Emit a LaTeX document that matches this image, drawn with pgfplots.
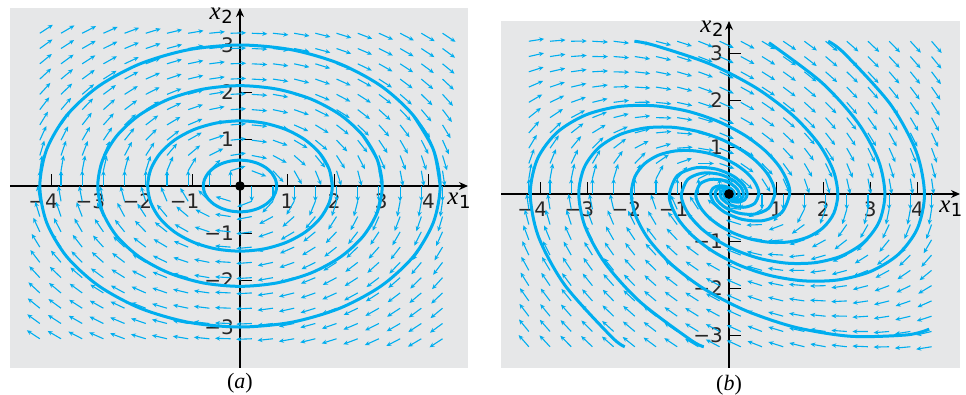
\documentclass[border=0pt]{standalone}
\usepackage{pgfplots}
\pgfplotsset{compat=1.18}
\usepackage{pgfplotstable}
\usetikzlibrary{arrows.meta}
\usepackage{fontspec}
\setmainfont{DejaVu Sans}
\newfontfamily\lserif{Liberation Serif}
\definecolor{traj}{RGB}{0,174,239}
\definecolor{bg}{RGB}{230,231,232}
\newcommand{\xlab}[1]{{\lserif\itshape\fontsize{12.5}{13}\selectfont x}\kern0.3pt\raisebox{-0.35ex}{\fontsize{9}{9}\selectfont #1}}
\newcommand{\sublab}[1]{{\lserif\fontsize{11}{12}\selectfont(\textit{#1})}}

\pgfplotstableread{
x y u v
-4.25 3.25 3.25 2.125
-3.8 3.25 3.25 1.9
-3.35 3.25 3.25 1.675
-2.9 3.25 3.25 1.45
-2.45 3.25 3.25 1.225
-2.0 3.25 3.25 1.0
-1.55 3.25 3.25 0.775
-1.1 3.25 3.25 0.55
-0.65 3.25 3.25 0.325
-0.2 3.25 3.25 0.1
0.25 3.25 3.25 -0.125
0.7 3.25 3.25 -0.35
1.15 3.25 3.25 -0.575
1.6 3.25 3.25 -0.8
2.05 3.25 3.25 -1.025
2.5 3.25 3.25 -1.25
2.95 3.25 3.25 -1.475
3.4 3.25 3.25 -1.7
3.85 3.25 3.25 -1.925
4.3 3.25 3.25 -2.15
-4.25 2.925 2.925 2.125
-3.8 2.925 2.925 1.9
-3.35 2.925 2.925 1.675
-2.9 2.925 2.925 1.45
-2.45 2.925 2.925 1.225
-2.0 2.925 2.925 1.0
-1.55 2.925 2.925 0.775
-1.1 2.925 2.925 0.55
-0.65 2.925 2.925 0.325
-0.2 2.925 2.925 0.1
0.25 2.925 2.925 -0.125
0.7 2.925 2.925 -0.35
1.15 2.925 2.925 -0.575
1.6 2.925 2.925 -0.8
2.05 2.925 2.925 -1.025
2.5 2.925 2.925 -1.25
2.95 2.925 2.925 -1.475
3.4 2.925 2.925 -1.7
3.85 2.925 2.925 -1.925
4.3 2.925 2.925 -2.15
-4.25 2.6 2.6 2.125
-3.8 2.6 2.6 1.9
-3.35 2.6 2.6 1.675
-2.9 2.6 2.6 1.45
-2.45 2.6 2.6 1.225
-2.0 2.6 2.6 1.0
-1.55 2.6 2.6 0.775
-1.1 2.6 2.6 0.55
-0.65 2.6 2.6 0.325
-0.2 2.6 2.6 0.1
0.25 2.6 2.6 -0.125
0.7 2.6 2.6 -0.35
1.15 2.6 2.6 -0.575
1.6 2.6 2.6 -0.8
2.05 2.6 2.6 -1.025
2.5 2.6 2.6 -1.25
2.95 2.6 2.6 -1.475
3.4 2.6 2.6 -1.7
3.85 2.6 2.6 -1.925
4.3 2.6 2.6 -2.15
-4.25 2.275 2.275 2.125
-3.8 2.275 2.275 1.9
-3.35 2.275 2.275 1.675
-2.9 2.275 2.275 1.45
-2.45 2.275 2.275 1.225
-2.0 2.275 2.275 1.0
-1.55 2.275 2.275 0.775
-1.1 2.275 2.275 0.55
-0.65 2.275 2.275 0.325
-0.2 2.275 2.275 0.1
0.25 2.275 2.275 -0.125
0.7 2.275 2.275 -0.35
1.15 2.275 2.275 -0.575
1.6 2.275 2.275 -0.8
2.05 2.275 2.275 -1.025
2.5 2.275 2.275 -1.25
2.95 2.275 2.275 -1.475
3.4 2.275 2.275 -1.7
3.85 2.275 2.275 -1.925
4.3 2.275 2.275 -2.15
-4.25 1.95 1.95 2.125
-3.8 1.95 1.95 1.9
-3.35 1.95 1.95 1.675
-2.9 1.95 1.95 1.45
-2.45 1.95 1.95 1.225
-2.0 1.95 1.95 1.0
-1.55 1.95 1.95 0.775
-1.1 1.95 1.95 0.55
-0.65 1.95 1.95 0.325
-0.2 1.95 1.95 0.1
0.25 1.95 1.95 -0.125
0.7 1.95 1.95 -0.35
1.15 1.95 1.95 -0.575
1.6 1.95 1.95 -0.8
2.05 1.95 1.95 -1.025
2.5 1.95 1.95 -1.25
2.95 1.95 1.95 -1.475
3.4 1.95 1.95 -1.7
3.85 1.95 1.95 -1.925
4.3 1.95 1.95 -2.15
-4.25 1.625 1.625 2.125
-3.8 1.625 1.625 1.9
-3.35 1.625 1.625 1.675
-2.9 1.625 1.625 1.45
-2.45 1.625 1.625 1.225
-2.0 1.625 1.625 1.0
-1.55 1.625 1.625 0.775
-1.1 1.625 1.625 0.55
-0.65 1.625 1.625 0.325
-0.2 1.625 1.625 0.1
0.25 1.625 1.625 -0.125
0.7 1.625 1.625 -0.35
1.15 1.625 1.625 -0.575
1.6 1.625 1.625 -0.8
2.05 1.625 1.625 -1.025
2.5 1.625 1.625 -1.25
2.95 1.625 1.625 -1.475
3.4 1.625 1.625 -1.7
3.85 1.625 1.625 -1.925
4.3 1.625 1.625 -2.15
-4.25 1.3 1.3 2.125
-3.8 1.3 1.3 1.9
-3.35 1.3 1.3 1.675
-2.9 1.3 1.3 1.45
-2.45 1.3 1.3 1.225
-2.0 1.3 1.3 1.0
-1.55 1.3 1.3 0.775
-1.1 1.3 1.3 0.55
-0.65 1.3 1.3 0.325
-0.2 1.3 1.3 0.1
0.25 1.3 1.3 -0.125
0.7 1.3 1.3 -0.35
1.15 1.3 1.3 -0.575
1.6 1.3 1.3 -0.8
2.05 1.3 1.3 -1.025
2.5 1.3 1.3 -1.25
2.95 1.3 1.3 -1.475
3.4 1.3 1.3 -1.7
3.85 1.3 1.3 -1.925
4.3 1.3 1.3 -2.15
-4.25 0.975 0.975 2.125
-3.8 0.975 0.975 1.9
-3.35 0.975 0.975 1.675
-2.9 0.975 0.975 1.45
-2.45 0.975 0.975 1.225
-2.0 0.975 0.975 1.0
-1.55 0.975 0.975 0.775
-1.1 0.975 0.975 0.55
-0.65 0.975 0.975 0.325
-0.2 0.975 0.975 0.1
0.25 0.975 0.975 -0.125
0.7 0.975 0.975 -0.35
1.15 0.975 0.975 -0.575
1.6 0.975 0.975 -0.8
2.05 0.975 0.975 -1.025
2.5 0.975 0.975 -1.25
2.95 0.975 0.975 -1.475
3.4 0.975 0.975 -1.7
3.85 0.975 0.975 -1.925
4.3 0.975 0.975 -2.15
-4.25 0.65 0.65 2.125
-3.8 0.65 0.65 1.9
-3.35 0.65 0.65 1.675
-2.9 0.65 0.65 1.45
-2.45 0.65 0.65 1.225
-2.0 0.65 0.65 1.0
-1.55 0.65 0.65 0.775
-1.1 0.65 0.65 0.55
-0.65 0.65 0.65 0.325
-0.2 0.65 0.65 0.1
0.25 0.65 0.65 -0.125
0.7 0.65 0.65 -0.35
1.15 0.65 0.65 -0.575
1.6 0.65 0.65 -0.8
2.05 0.65 0.65 -1.025
2.5 0.65 0.65 -1.25
2.95 0.65 0.65 -1.475
3.4 0.65 0.65 -1.7
3.85 0.65 0.65 -1.925
4.3 0.65 0.65 -2.15
-4.25 0.325 0.325 2.125
-3.8 0.325 0.325 1.9
-3.35 0.325 0.325 1.675
-2.9 0.325 0.325 1.45
-2.45 0.325 0.325 1.225
-2.0 0.325 0.325 1.0
-1.55 0.325 0.325 0.775
-1.1 0.325 0.325 0.55
-0.65 0.325 0.325 0.325
-0.2 0.325 0.325 0.1
0.25 0.325 0.325 -0.125
0.7 0.325 0.325 -0.35
1.15 0.325 0.325 -0.575
1.6 0.325 0.325 -0.8
2.05 0.325 0.325 -1.025
2.5 0.325 0.325 -1.25
2.95 0.325 0.325 -1.475
3.4 0.325 0.325 -1.7
3.85 0.325 0.325 -1.925
4.3 0.325 0.325 -2.15
-4.25 0 0 2.125
-3.8 0 0 1.9
-3.35 0 0 1.675
-2.9 0 0 1.45
-2.45 0 0 1.225
-2.0 0 0 1.0
-1.55 0 0 0.775
-1.1 0 0 0.55
-0.65 0 0 0.325
-0.2 0 0 0.1
0.25 0 0 -0.125
0.7 0 0 -0.35
1.15 0 0 -0.575
1.6 0 0 -0.8
2.05 0 0 -1.025
2.5 0 0 -1.25
2.95 0 0 -1.475
3.4 0 0 -1.7
3.85 0 0 -1.925
4.3 0 0 -2.15
-4.25 -0.325 -0.325 2.125
-3.8 -0.325 -0.325 1.9
-3.35 -0.325 -0.325 1.675
-2.9 -0.325 -0.325 1.45
-2.45 -0.325 -0.325 1.225
-2.0 -0.325 -0.325 1.0
-1.55 -0.325 -0.325 0.775
-1.1 -0.325 -0.325 0.55
-0.65 -0.325 -0.325 0.325
-0.2 -0.325 -0.325 0.1
0.25 -0.325 -0.325 -0.125
0.7 -0.325 -0.325 -0.35
1.15 -0.325 -0.325 -0.575
1.6 -0.325 -0.325 -0.8
2.05 -0.325 -0.325 -1.025
2.5 -0.325 -0.325 -1.25
2.95 -0.325 -0.325 -1.475
3.4 -0.325 -0.325 -1.7
3.85 -0.325 -0.325 -1.925
4.3 -0.325 -0.325 -2.15
-4.25 -0.65 -0.65 2.125
-3.8 -0.65 -0.65 1.9
-3.35 -0.65 -0.65 1.675
-2.9 -0.65 -0.65 1.45
-2.45 -0.65 -0.65 1.225
-2.0 -0.65 -0.65 1.0
-1.55 -0.65 -0.65 0.775
-1.1 -0.65 -0.65 0.55
-0.65 -0.65 -0.65 0.325
-0.2 -0.65 -0.65 0.1
0.25 -0.65 -0.65 -0.125
0.7 -0.65 -0.65 -0.35
1.15 -0.65 -0.65 -0.575
1.6 -0.65 -0.65 -0.8
2.05 -0.65 -0.65 -1.025
2.5 -0.65 -0.65 -1.25
2.95 -0.65 -0.65 -1.475
3.4 -0.65 -0.65 -1.7
3.85 -0.65 -0.65 -1.925
4.3 -0.65 -0.65 -2.15
-4.25 -0.975 -0.975 2.125
-3.8 -0.975 -0.975 1.9
-3.35 -0.975 -0.975 1.675
-2.9 -0.975 -0.975 1.45
-2.45 -0.975 -0.975 1.225
-2.0 -0.975 -0.975 1.0
-1.55 -0.975 -0.975 0.775
-1.1 -0.975 -0.975 0.55
-0.65 -0.975 -0.975 0.325
-0.2 -0.975 -0.975 0.1
0.25 -0.975 -0.975 -0.125
0.7 -0.975 -0.975 -0.35
1.15 -0.975 -0.975 -0.575
1.6 -0.975 -0.975 -0.8
2.05 -0.975 -0.975 -1.025
2.5 -0.975 -0.975 -1.25
2.95 -0.975 -0.975 -1.475
3.4 -0.975 -0.975 -1.7
3.85 -0.975 -0.975 -1.925
4.3 -0.975 -0.975 -2.15
-4.25 -1.3 -1.3 2.125
-3.8 -1.3 -1.3 1.9
-3.35 -1.3 -1.3 1.675
-2.9 -1.3 -1.3 1.45
-2.45 -1.3 -1.3 1.225
-2.0 -1.3 -1.3 1.0
-1.55 -1.3 -1.3 0.775
-1.1 -1.3 -1.3 0.55
-0.65 -1.3 -1.3 0.325
-0.2 -1.3 -1.3 0.1
0.25 -1.3 -1.3 -0.125
0.7 -1.3 -1.3 -0.35
1.15 -1.3 -1.3 -0.575
1.6 -1.3 -1.3 -0.8
2.05 -1.3 -1.3 -1.025
2.5 -1.3 -1.3 -1.25
2.95 -1.3 -1.3 -1.475
3.4 -1.3 -1.3 -1.7
3.85 -1.3 -1.3 -1.925
4.3 -1.3 -1.3 -2.15
-4.25 -1.625 -1.625 2.125
-3.8 -1.625 -1.625 1.9
-3.35 -1.625 -1.625 1.675
-2.9 -1.625 -1.625 1.45
-2.45 -1.625 -1.625 1.225
-2.0 -1.625 -1.625 1.0
-1.55 -1.625 -1.625 0.775
-1.1 -1.625 -1.625 0.55
-0.65 -1.625 -1.625 0.325
-0.2 -1.625 -1.625 0.1
0.25 -1.625 -1.625 -0.125
0.7 -1.625 -1.625 -0.35
1.15 -1.625 -1.625 -0.575
1.6 -1.625 -1.625 -0.8
2.05 -1.625 -1.625 -1.025
2.5 -1.625 -1.625 -1.25
2.95 -1.625 -1.625 -1.475
3.4 -1.625 -1.625 -1.7
3.85 -1.625 -1.625 -1.925
4.3 -1.625 -1.625 -2.15
-4.25 -1.95 -1.95 2.125
-3.8 -1.95 -1.95 1.9
-3.35 -1.95 -1.95 1.675
-2.9 -1.95 -1.95 1.45
-2.45 -1.95 -1.95 1.225
-2.0 -1.95 -1.95 1.0
-1.55 -1.95 -1.95 0.775
-1.1 -1.95 -1.95 0.55
-0.65 -1.95 -1.95 0.325
-0.2 -1.95 -1.95 0.1
0.25 -1.95 -1.95 -0.125
0.7 -1.95 -1.95 -0.35
1.15 -1.95 -1.95 -0.575
1.6 -1.95 -1.95 -0.8
2.05 -1.95 -1.95 -1.025
2.5 -1.95 -1.95 -1.25
2.95 -1.95 -1.95 -1.475
3.4 -1.95 -1.95 -1.7
3.85 -1.95 -1.95 -1.925
4.3 -1.95 -1.95 -2.15
-4.25 -2.275 -2.275 2.125
-3.8 -2.275 -2.275 1.9
-3.35 -2.275 -2.275 1.675
-2.9 -2.275 -2.275 1.45
-2.45 -2.275 -2.275 1.225
-2.0 -2.275 -2.275 1.0
-1.55 -2.275 -2.275 0.775
-1.1 -2.275 -2.275 0.55
-0.65 -2.275 -2.275 0.325
-0.2 -2.275 -2.275 0.1
0.25 -2.275 -2.275 -0.125
0.7 -2.275 -2.275 -0.35
1.15 -2.275 -2.275 -0.575
1.6 -2.275 -2.275 -0.8
2.05 -2.275 -2.275 -1.025
2.5 -2.275 -2.275 -1.25
2.95 -2.275 -2.275 -1.475
3.4 -2.275 -2.275 -1.7
3.85 -2.275 -2.275 -1.925
4.3 -2.275 -2.275 -2.15
-4.25 -2.6 -2.6 2.125
-3.8 -2.6 -2.6 1.9
-3.35 -2.6 -2.6 1.675
-2.9 -2.6 -2.6 1.45
-2.45 -2.6 -2.6 1.225
-2.0 -2.6 -2.6 1.0
-1.55 -2.6 -2.6 0.775
-1.1 -2.6 -2.6 0.55
-0.65 -2.6 -2.6 0.325
-0.2 -2.6 -2.6 0.1
0.25 -2.6 -2.6 -0.125
0.7 -2.6 -2.6 -0.35
1.15 -2.6 -2.6 -0.575
1.6 -2.6 -2.6 -0.8
2.05 -2.6 -2.6 -1.025
2.5 -2.6 -2.6 -1.25
2.95 -2.6 -2.6 -1.475
3.4 -2.6 -2.6 -1.7
3.85 -2.6 -2.6 -1.925
4.3 -2.6 -2.6 -2.15
-4.25 -2.925 -2.925 2.125
-3.8 -2.925 -2.925 1.9
-3.35 -2.925 -2.925 1.675
-2.9 -2.925 -2.925 1.45
-2.45 -2.925 -2.925 1.225
-2.0 -2.925 -2.925 1.0
-1.55 -2.925 -2.925 0.775
-1.1 -2.925 -2.925 0.55
-0.65 -2.925 -2.925 0.325
-0.2 -2.925 -2.925 0.1
0.25 -2.925 -2.925 -0.125
0.7 -2.925 -2.925 -0.35
1.15 -2.925 -2.925 -0.575
1.6 -2.925 -2.925 -0.8
2.05 -2.925 -2.925 -1.025
2.5 -2.925 -2.925 -1.25
2.95 -2.925 -2.925 -1.475
3.4 -2.925 -2.925 -1.7
3.85 -2.925 -2.925 -1.925
4.3 -2.925 -2.925 -2.15
-4.25 -3.25 -3.25 2.125
-3.8 -3.25 -3.25 1.9
-3.35 -3.25 -3.25 1.675
-2.9 -3.25 -3.25 1.45
-2.45 -3.25 -3.25 1.225
-2.0 -3.25 -3.25 1.0
-1.55 -3.25 -3.25 0.775
-1.1 -3.25 -3.25 0.55
-0.65 -3.25 -3.25 0.325
-0.2 -3.25 -3.25 0.1
0.25 -3.25 -3.25 -0.125
0.7 -3.25 -3.25 -0.35
1.15 -3.25 -3.25 -0.575
1.6 -3.25 -3.25 -0.8
2.05 -3.25 -3.25 -1.025
2.5 -3.25 -3.25 -1.25
2.95 -3.25 -3.25 -1.475
3.4 -3.25 -3.25 -1.7
3.85 -3.25 -3.25 -1.925
4.3 -3.25 -3.25 -2.15
}\fieldA

\pgfplotstableread{
x y u v
-4.25 3.25 3.25 0.5
-3.8 3.25 3.25 0.275
-3.35 3.25 3.25 0.05
-2.9 3.25 3.25 -0.175
-2.45 3.25 3.25 -0.4
-2.0 3.25 3.25 -0.625
-1.55 3.25 3.25 -0.85
-1.1 3.25 3.25 -1.075
-0.65 3.25 3.25 -1.3
-0.2 3.25 3.25 -1.525
0.25 3.25 3.25 -1.75
0.7 3.25 3.25 -1.975
1.15 3.25 3.25 -2.2
1.6 3.25 3.25 -2.425
2.05 3.25 3.25 -2.65
2.5 3.25 3.25 -2.875
2.95 3.25 3.25 -3.1
3.4 3.25 3.25 -3.325
3.85 3.25 3.25 -3.55
4.3 3.25 3.25 -3.775
-4.25 2.925 2.925 0.6625
-3.8 2.925 2.925 0.4375
-3.35 2.925 2.925 0.2125
-2.9 2.925 2.925 -0.0125
-2.45 2.925 2.925 -0.2375
-2.0 2.925 2.925 -0.4625
-1.55 2.925 2.925 -0.6875
-1.1 2.925 2.925 -0.9125
-0.65 2.925 2.925 -1.1375
-0.2 2.925 2.925 -1.3625
0.25 2.925 2.925 -1.5875
0.7 2.925 2.925 -1.8125
1.15 2.925 2.925 -2.0375
1.6 2.925 2.925 -2.2625
2.05 2.925 2.925 -2.4875
2.5 2.925 2.925 -2.7125
2.95 2.925 2.925 -2.9375
3.4 2.925 2.925 -3.1625
3.85 2.925 2.925 -3.3875
4.3 2.925 2.925 -3.6125
-4.25 2.6 2.6 0.825
-3.8 2.6 2.6 0.6
-3.35 2.6 2.6 0.375
-2.9 2.6 2.6 0.15
-2.45 2.6 2.6 -0.075
-2.0 2.6 2.6 -0.3
-1.55 2.6 2.6 -0.525
-1.1 2.6 2.6 -0.75
-0.65 2.6 2.6 -0.975
-0.2 2.6 2.6 -1.2
0.25 2.6 2.6 -1.425
0.7 2.6 2.6 -1.65
1.15 2.6 2.6 -1.875
1.6 2.6 2.6 -2.1
2.05 2.6 2.6 -2.325
2.5 2.6 2.6 -2.55
2.95 2.6 2.6 -2.775
3.4 2.6 2.6 -3.0
3.85 2.6 2.6 -3.225
4.3 2.6 2.6 -3.45
-4.25 2.275 2.275 0.9875
-3.8 2.275 2.275 0.7625
-3.35 2.275 2.275 0.5375
-2.9 2.275 2.275 0.3125
-2.45 2.275 2.275 0.0875
-2.0 2.275 2.275 -0.1375
-1.55 2.275 2.275 -0.3625
-1.1 2.275 2.275 -0.5875
-0.65 2.275 2.275 -0.8125
-0.2 2.275 2.275 -1.0375
0.25 2.275 2.275 -1.2625
0.7 2.275 2.275 -1.4875
1.15 2.275 2.275 -1.7125
1.6 2.275 2.275 -1.9375
2.05 2.275 2.275 -2.1625
2.5 2.275 2.275 -2.3875
2.95 2.275 2.275 -2.6125
3.4 2.275 2.275 -2.8375
3.85 2.275 2.275 -3.0625
4.3 2.275 2.275 -3.2875
-4.25 1.95 1.95 1.15
-3.8 1.95 1.95 0.925
-3.35 1.95 1.95 0.7
-2.9 1.95 1.95 0.475
-2.45 1.95 1.95 0.25
-2.0 1.95 1.95 0.025
-1.55 1.95 1.95 -0.2
-1.1 1.95 1.95 -0.425
-0.65 1.95 1.95 -0.65
-0.2 1.95 1.95 -0.875
0.25 1.95 1.95 -1.1
0.7 1.95 1.95 -1.325
1.15 1.95 1.95 -1.55
1.6 1.95 1.95 -1.775
2.05 1.95 1.95 -2.0
2.5 1.95 1.95 -2.225
2.95 1.95 1.95 -2.45
3.4 1.95 1.95 -2.675
3.85 1.95 1.95 -2.9
4.3 1.95 1.95 -3.125
-4.25 1.625 1.625 1.3125
-3.8 1.625 1.625 1.0875
-3.35 1.625 1.625 0.8625
-2.9 1.625 1.625 0.6375
-2.45 1.625 1.625 0.4125
-2.0 1.625 1.625 0.1875
-1.55 1.625 1.625 -0.0375
-1.1 1.625 1.625 -0.2625
-0.65 1.625 1.625 -0.4875
-0.2 1.625 1.625 -0.7125
0.25 1.625 1.625 -0.9375
0.7 1.625 1.625 -1.1625
1.15 1.625 1.625 -1.3875
1.6 1.625 1.625 -1.6125
2.05 1.625 1.625 -1.8375
2.5 1.625 1.625 -2.0625
2.95 1.625 1.625 -2.2875
3.4 1.625 1.625 -2.5125
3.85 1.625 1.625 -2.7375
4.3 1.625 1.625 -2.9625
-4.25 1.3 1.3 1.475
-3.8 1.3 1.3 1.25
-3.35 1.3 1.3 1.025
-2.9 1.3 1.3 0.8
-2.45 1.3 1.3 0.575
-2.0 1.3 1.3 0.35
-1.55 1.3 1.3 0.125
-1.1 1.3 1.3 -0.1
-0.65 1.3 1.3 -0.325
-0.2 1.3 1.3 -0.55
0.25 1.3 1.3 -0.775
0.7 1.3 1.3 -1.0
1.15 1.3 1.3 -1.225
1.6 1.3 1.3 -1.45
2.05 1.3 1.3 -1.675
2.5 1.3 1.3 -1.9
2.95 1.3 1.3 -2.125
3.4 1.3 1.3 -2.35
3.85 1.3 1.3 -2.575
4.3 1.3 1.3 -2.8
-4.25 0.975 0.975 1.6375
-3.8 0.975 0.975 1.4125
-3.35 0.975 0.975 1.1875
-2.9 0.975 0.975 0.9625
-2.45 0.975 0.975 0.7375
-2.0 0.975 0.975 0.5125
-1.55 0.975 0.975 0.2875
-1.1 0.975 0.975 0.0625
-0.65 0.975 0.975 -0.1625
-0.2 0.975 0.975 -0.3875
0.25 0.975 0.975 -0.6125
0.7 0.975 0.975 -0.8375
1.15 0.975 0.975 -1.0625
1.6 0.975 0.975 -1.2875
2.05 0.975 0.975 -1.5125
2.5 0.975 0.975 -1.7375
2.95 0.975 0.975 -1.9625
3.4 0.975 0.975 -2.1875
3.85 0.975 0.975 -2.4125
4.3 0.975 0.975 -2.6375
-4.25 0.65 0.65 1.8
-3.8 0.65 0.65 1.575
-3.35 0.65 0.65 1.35
-2.9 0.65 0.65 1.125
-2.45 0.65 0.65 0.9
-2.0 0.65 0.65 0.675
-1.55 0.65 0.65 0.45
-1.1 0.65 0.65 0.225
-0.65 0.65 0.65 0
-0.2 0.65 0.65 -0.225
0.25 0.65 0.65 -0.45
0.7 0.65 0.65 -0.675
1.15 0.65 0.65 -0.9
1.6 0.65 0.65 -1.125
2.05 0.65 0.65 -1.35
2.5 0.65 0.65 -1.575
2.95 0.65 0.65 -1.8
3.4 0.65 0.65 -2.025
3.85 0.65 0.65 -2.25
4.3 0.65 0.65 -2.475
-4.25 0.325 0.325 1.9625
-3.8 0.325 0.325 1.7375
-3.35 0.325 0.325 1.5125
-2.9 0.325 0.325 1.2875
-2.45 0.325 0.325 1.0625
-2.0 0.325 0.325 0.8375
-1.55 0.325 0.325 0.6125
-1.1 0.325 0.325 0.3875
-0.65 0.325 0.325 0.1625
-0.2 0.325 0.325 -0.0625
0.25 0.325 0.325 -0.2875
0.7 0.325 0.325 -0.5125
1.15 0.325 0.325 -0.7375
1.6 0.325 0.325 -0.9625
2.05 0.325 0.325 -1.1875
2.5 0.325 0.325 -1.4125
2.95 0.325 0.325 -1.6375
3.4 0.325 0.325 -1.8625
3.85 0.325 0.325 -2.0875
4.3 0.325 0.325 -2.3125
-4.25 0 0 2.125
-3.8 0 0 1.9
-3.35 0 0 1.675
-2.9 0 0 1.45
-2.45 0 0 1.225
-2.0 0 0 1.0
-1.55 0 0 0.775
-1.1 0 0 0.55
-0.65 0 0 0.325
-0.2 0 0 0.1
0.25 0 0 -0.125
0.7 0 0 -0.35
1.15 0 0 -0.575
1.6 0 0 -0.8
2.05 0 0 -1.025
2.5 0 0 -1.25
2.95 0 0 -1.475
3.4 0 0 -1.7
3.85 0 0 -1.925
4.3 0 0 -2.15
-4.25 -0.325 -0.325 2.2875
-3.8 -0.325 -0.325 2.0625
-3.35 -0.325 -0.325 1.8375
-2.9 -0.325 -0.325 1.6125
-2.45 -0.325 -0.325 1.3875
-2.0 -0.325 -0.325 1.1625
-1.55 -0.325 -0.325 0.9375
-1.1 -0.325 -0.325 0.7125
-0.65 -0.325 -0.325 0.4875
-0.2 -0.325 -0.325 0.2625
0.25 -0.325 -0.325 0.0375
0.7 -0.325 -0.325 -0.1875
1.15 -0.325 -0.325 -0.4125
1.6 -0.325 -0.325 -0.6375
2.05 -0.325 -0.325 -0.8625
2.5 -0.325 -0.325 -1.0875
2.95 -0.325 -0.325 -1.3125
3.4 -0.325 -0.325 -1.5375
3.85 -0.325 -0.325 -1.7625
4.3 -0.325 -0.325 -1.9875
-4.25 -0.65 -0.65 2.45
-3.8 -0.65 -0.65 2.225
-3.35 -0.65 -0.65 2.0
-2.9 -0.65 -0.65 1.775
-2.45 -0.65 -0.65 1.55
-2.0 -0.65 -0.65 1.325
-1.55 -0.65 -0.65 1.1
-1.1 -0.65 -0.65 0.875
-0.65 -0.65 -0.65 0.65
-0.2 -0.65 -0.65 0.425
0.25 -0.65 -0.65 0.2
0.7 -0.65 -0.65 -0.025
1.15 -0.65 -0.65 -0.25
1.6 -0.65 -0.65 -0.475
2.05 -0.65 -0.65 -0.7
2.5 -0.65 -0.65 -0.925
2.95 -0.65 -0.65 -1.15
3.4 -0.65 -0.65 -1.375
3.85 -0.65 -0.65 -1.6
4.3 -0.65 -0.65 -1.825
-4.25 -0.975 -0.975 2.6125
-3.8 -0.975 -0.975 2.3875
-3.35 -0.975 -0.975 2.1625
-2.9 -0.975 -0.975 1.9375
-2.45 -0.975 -0.975 1.7125
-2.0 -0.975 -0.975 1.4875
-1.55 -0.975 -0.975 1.2625
-1.1 -0.975 -0.975 1.0375
-0.65 -0.975 -0.975 0.8125
-0.2 -0.975 -0.975 0.5875
0.25 -0.975 -0.975 0.3625
0.7 -0.975 -0.975 0.1375
1.15 -0.975 -0.975 -0.0875
1.6 -0.975 -0.975 -0.3125
2.05 -0.975 -0.975 -0.5375
2.5 -0.975 -0.975 -0.7625
2.95 -0.975 -0.975 -0.9875
3.4 -0.975 -0.975 -1.2125
3.85 -0.975 -0.975 -1.4375
4.3 -0.975 -0.975 -1.6625
-4.25 -1.3 -1.3 2.775
-3.8 -1.3 -1.3 2.55
-3.35 -1.3 -1.3 2.325
-2.9 -1.3 -1.3 2.1
-2.45 -1.3 -1.3 1.875
-2.0 -1.3 -1.3 1.65
-1.55 -1.3 -1.3 1.425
-1.1 -1.3 -1.3 1.2
-0.65 -1.3 -1.3 0.975
-0.2 -1.3 -1.3 0.75
0.25 -1.3 -1.3 0.525
0.7 -1.3 -1.3 0.3
1.15 -1.3 -1.3 0.075
1.6 -1.3 -1.3 -0.15
2.05 -1.3 -1.3 -0.375
2.5 -1.3 -1.3 -0.6
2.95 -1.3 -1.3 -0.825
3.4 -1.3 -1.3 -1.05
3.85 -1.3 -1.3 -1.275
4.3 -1.3 -1.3 -1.5
-4.25 -1.625 -1.625 2.9375
-3.8 -1.625 -1.625 2.7125
-3.35 -1.625 -1.625 2.4875
-2.9 -1.625 -1.625 2.2625
-2.45 -1.625 -1.625 2.0375
-2.0 -1.625 -1.625 1.8125
-1.55 -1.625 -1.625 1.5875
-1.1 -1.625 -1.625 1.3625
-0.65 -1.625 -1.625 1.1375
-0.2 -1.625 -1.625 0.9125
0.25 -1.625 -1.625 0.6875
0.7 -1.625 -1.625 0.4625
1.15 -1.625 -1.625 0.2375
1.6 -1.625 -1.625 0.0125
2.05 -1.625 -1.625 -0.2125
2.5 -1.625 -1.625 -0.4375
2.95 -1.625 -1.625 -0.6625
3.4 -1.625 -1.625 -0.8875
3.85 -1.625 -1.625 -1.1125
4.3 -1.625 -1.625 -1.3375
-4.25 -1.95 -1.95 3.1
-3.8 -1.95 -1.95 2.875
-3.35 -1.95 -1.95 2.65
-2.9 -1.95 -1.95 2.425
-2.45 -1.95 -1.95 2.2
-2.0 -1.95 -1.95 1.975
-1.55 -1.95 -1.95 1.75
-1.1 -1.95 -1.95 1.525
-0.65 -1.95 -1.95 1.3
-0.2 -1.95 -1.95 1.075
0.25 -1.95 -1.95 0.85
0.7 -1.95 -1.95 0.625
1.15 -1.95 -1.95 0.4
1.6 -1.95 -1.95 0.175
2.05 -1.95 -1.95 -0.05
2.5 -1.95 -1.95 -0.275
2.95 -1.95 -1.95 -0.5
3.4 -1.95 -1.95 -0.725
3.85 -1.95 -1.95 -0.95
4.3 -1.95 -1.95 -1.175
-4.25 -2.275 -2.275 3.2625
-3.8 -2.275 -2.275 3.0375
-3.35 -2.275 -2.275 2.8125
-2.9 -2.275 -2.275 2.5875
-2.45 -2.275 -2.275 2.3625
-2.0 -2.275 -2.275 2.1375
-1.55 -2.275 -2.275 1.9125
-1.1 -2.275 -2.275 1.6875
-0.65 -2.275 -2.275 1.4625
-0.2 -2.275 -2.275 1.2375
0.25 -2.275 -2.275 1.0125
0.7 -2.275 -2.275 0.7875
1.15 -2.275 -2.275 0.5625
1.6 -2.275 -2.275 0.3375
2.05 -2.275 -2.275 0.1125
2.5 -2.275 -2.275 -0.1125
2.95 -2.275 -2.275 -0.3375
3.4 -2.275 -2.275 -0.5625
3.85 -2.275 -2.275 -0.7875
4.3 -2.275 -2.275 -1.0125
-4.25 -2.6 -2.6 3.425
-3.8 -2.6 -2.6 3.2
-3.35 -2.6 -2.6 2.975
-2.9 -2.6 -2.6 2.75
-2.45 -2.6 -2.6 2.525
-2.0 -2.6 -2.6 2.3
-1.55 -2.6 -2.6 2.075
-1.1 -2.6 -2.6 1.85
-0.65 -2.6 -2.6 1.625
-0.2 -2.6 -2.6 1.4
0.25 -2.6 -2.6 1.175
0.7 -2.6 -2.6 0.95
1.15 -2.6 -2.6 0.725
1.6 -2.6 -2.6 0.5
2.05 -2.6 -2.6 0.275
2.5 -2.6 -2.6 0.05
2.95 -2.6 -2.6 -0.175
3.4 -2.6 -2.6 -0.4
3.85 -2.6 -2.6 -0.625
4.3 -2.6 -2.6 -0.85
-4.25 -2.925 -2.925 3.5875
-3.8 -2.925 -2.925 3.3625
-3.35 -2.925 -2.925 3.1375
-2.9 -2.925 -2.925 2.9125
-2.45 -2.925 -2.925 2.6875
-2.0 -2.925 -2.925 2.4625
-1.55 -2.925 -2.925 2.2375
-1.1 -2.925 -2.925 2.0125
-0.65 -2.925 -2.925 1.7875
-0.2 -2.925 -2.925 1.5625
0.25 -2.925 -2.925 1.3375
0.7 -2.925 -2.925 1.1125
1.15 -2.925 -2.925 0.8875
1.6 -2.925 -2.925 0.6625
2.05 -2.925 -2.925 0.4375
2.5 -2.925 -2.925 0.2125
2.95 -2.925 -2.925 -0.0125
3.4 -2.925 -2.925 -0.2375
3.85 -2.925 -2.925 -0.4625
4.3 -2.925 -2.925 -0.6875
-4.25 -3.25 -3.25 3.75
-3.8 -3.25 -3.25 3.525
-3.35 -3.25 -3.25 3.3
-2.9 -3.25 -3.25 3.075
-2.45 -3.25 -3.25 2.85
-2.0 -3.25 -3.25 2.625
-1.55 -3.25 -3.25 2.4
-1.1 -3.25 -3.25 2.175
-0.65 -3.25 -3.25 1.95
-0.2 -3.25 -3.25 1.725
0.25 -3.25 -3.25 1.5
0.7 -3.25 -3.25 1.275
1.15 -3.25 -3.25 1.05
1.6 -3.25 -3.25 0.825
2.05 -3.25 -3.25 0.6
2.5 -3.25 -3.25 0.375
2.95 -3.25 -3.25 0.15
3.4 -3.25 -3.25 -0.075
3.85 -3.25 -3.25 -0.3
4.3 -3.25 -3.25 -0.525
}\fieldB

\pgfplotsset{
  phase/.style={
    scale only axis, x=23.55pt, y=23.5pt,
    axis lines=middle, clip=false,
    axis line style={line width=0.6pt, -{Stealth[length=4.5pt,width=4pt]}},
    axis background/.style={fill=bg},
    tick align=inside, major tick length=6pt,
    tick style={black, line width=0.5pt},
    xtick={-4,-3,-2,-1,1,2,3,4},
    xticklabels={\llap{−}4,\llap{−}3,\llap{−}2,\llap{−}1,1,2,3,4},
    ytick={-3,-2,-1,1,2,3},
    yticklabels={−3,−2,−1,1,2,3},
    ticklabel style={font=\fontsize{10}{10}\selectfont, text=black!85},
    xticklabel style={yshift=-0.5pt},
    yticklabel style={xshift=0.5pt},
  },
  field/.style={traj, line width=0.55pt, -{Stealth[length=2.5pt,width=2.2pt]},
    quiver={u={0.33*\thisrow{u}/sqrt(\thisrow{u}*\thisrow{u}+\thisrow{v}*\thisrow{v})},
            v={0.33*\thisrow{v}/sqrt(\thisrow{u}*\thisrow{u}+\thisrow{v}*\thisrow{v})}}},
  trajs/.style={traj, line width=1.5pt, smooth},
}

\begin{document}
\begin{tikzpicture}
\path[use as bounding box] (0,0) rectangle (483pt,-197.5pt);

% ---------------- (a) ----------------
\begin{axis}[phase, at={(5pt,-184pt)}, anchor=south west,
  xmin=-4.883, xmax=4.841, ymin=-3.872, ymax=3.787]
\addplot[field] table[x=x,y=y] {\fieldA};
\addplot[trajs] coordinates {(4.25,0) (4.105,0.776) (3.681,1.5) (3.005,2.121) (2.125,2.598) (1.1,2.898) (0,3) (-1.1,2.898) (-2.125,2.598) (-3.005,2.121) (-3.681,1.5) (-4.105,0.776) (-4.25,0) (-4.105,-0.776) (-3.681,-1.5) (-3.005,-2.121) (-2.125,-2.598) (-1.1,-2.898) (0,-3) (1.1,-2.898) (2.125,-2.598) (3.005,-2.121) (3.681,-1.5) (4.105,-0.776) (4.25,0) (4.105,0.776) (3.681,1.5)};
\addplot[trajs] coordinates {(3.02,0) (2.917,0.553) (2.615,1.068) (2.135,1.51) (1.51,1.849) (0.782,2.062) (0,2.135) (-0.782,2.062) (-1.51,1.849) (-2.135,1.51) (-2.615,1.068) (-2.917,0.553) (-3.02,0) (-2.917,-0.553) (-2.615,-1.068) (-2.135,-1.51) (-1.51,-1.849) (-0.782,-2.062) (0,-2.135) (0.782,-2.062) (1.51,-1.849) (2.135,-1.51) (2.615,-1.068) (2.917,-0.553) (3.02,0) (2.917,0.553) (2.615,1.068)};
\addplot[trajs] coordinates {(1.96,0) (1.893,0.359) (1.697,0.693) (1.386,0.98) (0.98,1.2) (0.507,1.339) (0,1.386) (-0.507,1.339) (-0.98,1.2) (-1.386,0.98) (-1.697,0.693) (-1.893,0.359) (-1.96,0) (-1.893,-0.359) (-1.697,-0.693) (-1.386,-0.98) (-0.98,-1.2) (-0.507,-1.339) (0,-1.386) (0.507,-1.339) (0.98,-1.2) (1.386,-0.98) (1.697,-0.693) (1.893,-0.359) (1.96,0) (1.893,0.359) (1.697,0.693)};
\addplot[trajs] coordinates {(0.78,0) (0.753,0.142) (0.675,0.275) (0.552,0.389) (0.39,0.476) (0.202,0.531) (0,0.55) (-0.202,0.531) (-0.39,0.476) (-0.552,0.389) (-0.675,0.275) (-0.753,0.142) (-0.78,0) (-0.753,-0.142) (-0.675,-0.275) (-0.552,-0.389) (-0.39,-0.476) (-0.202,-0.531) (0,-0.55) (0.202,-0.531) (0.39,-0.476) (0.552,-0.389) (0.675,-0.275) (0.753,-0.142) (0.78,0) (0.753,0.142) (0.675,0.275)};
\addplot[only marks, mark=*, mark size=2.2pt, black] coordinates {(0,0)};
\node at (4.65,-0.32) {\xlab{1}};
\node at (-0.40,3.63) {\xlab{2}};
\node at (0,-4.19) {\sublab{a}};
\end{axis}

% ---------------- (b) ----------------
\begin{axis}[phase, at={(250.5pt,-184pt)}, anchor=south west,
  xmin=-4.841, xmax=4.904, ymin=-3.702, ymax=3.681]
\addplot[field] table[x=x,y=y] {\fieldB};
\addplot[trajs] coordinates {(2.106,3.25) (2.456,2.985) (3.4246,1.9118) (3.9773,0.8964) (4.15,0) (3.9987,-0.7355) (3.5922,-1.2869) (3.0050,-1.6485) (2.3112,-1.8288) (1.5787,-1.8476) (0.8663,-1.7325) (0.2206,-1.5159) (-0.3247,-1.2310) (-0.7492,-0.9105) (-1.0446,-0.5831) (-1.2132,-0.2734) (-1.2658,0) (-1.0956,0.3925) (-0.7049,0.5578) (-0.2642,0.5284) (0.0990,0.3755) (0.3186,0.1779) (0.3861,0) (0.3342,-0.1197) (0.2150,-0.1702) (0.0806,-0.1612) (-0.0302,-0.1145) (-0.0972,-0.0542) (-0.1178,0) (-0.1019,0.0365) (-0.0656,0.0519) (-0.0246,0.0492) (0.0092,0.0349) (0.0296,0.0166) (0.0359,0)};
\addplot[trajs] coordinates {(0.849,3.219) (1.9591,2.3807) (2.7314,1.5248) (3.1723,0.7150) (3.31,0) (3.1894,-0.5866) (2.8651,-1.0264) (2.3968,-1.3148) (1.8434,-1.4586) (1.2592,-1.4736) (0.6909,-1.3819) (0.1760,-1.2090) (-0.2590,-0.9818) (-0.5976,-0.7262) (-0.8331,-0.4651) (-0.9676,-0.2181) (-1.0096,0) (-0.8739,0.3131) (-0.5622,0.4449) (-0.2107,0.4215) (0.0790,0.2995) (0.2541,0.1419) (0.3079,0) (0.2665,-0.0955) (0.1715,-0.1357) (0.0643,-0.1286) (-0.0241,-0.0914) (-0.0775,-0.0433) (-0.0939,0) (-0.0813,0.0291) (-0.0523,0.0414) (-0.0196,0.0392) (0.0073,0.0279) (0.0236,0.0132) (0.0287,0)};
\addplot[trajs] coordinates {(-2.008,3.25) (-1.5808,3.1618) (-0.4026,2.7663) (0.5925,2.2465) (1.3672,1.6615) (1.9062,1.0641) (2.2139,0.4990) (2.31,0) (2.2258,-0.4094) (1.9995,-0.7163) (1.6727,-0.9176) (1.2865,-1.0179) (0.8788,-1.0284) (0.4822,-0.9644) (0.1228,-0.8438) (-0.1807,-0.6852) (-0.4170,-0.5068) (-0.5814,-0.3246) (-0.6753,-0.1522) (-0.7046,0) (-0.6099,0.2185) (-0.3924,0.3105) (-0.1471,0.2941) (0.0551,0.2090) (0.1773,0.0990) (0.2149,0) (0.1860,-0.0666) (0.1197,-0.0947) (0.0449,-0.0897) (-0.0168,-0.0638) (-0.0541,-0.0302) (-0.0656,0) (-0.0567,0.0203) (-0.0365,0.0289) (-0.0137,0.0274) (0.0051,0.0195) (0.0165,0.0092) (0.0200,0)};
\addplot[trajs] coordinates {(-2.213,-3.25) (-2.4976,-3.0352) (-3.4824,-1.9440) (-4.0444,-0.9115) (-4.22,0) (-4.0662,0.7479) (-3.6527,1.3086) (-3.0557,1.6763) (-2.3502,1.8596) (-1.6054,1.8788) (-0.8809,1.7618) (-0.2243,1.5414) (0.3302,1.2518) (0.7618,0.9258) (1.0622,0.5930) (1.2336,0.2781) (1.2871,0) (1.1141,-0.3991) (0.7168,-0.5672) (0.2687,-0.5373) (-0.1007,-0.3818) (-0.3240,-0.1809) (-0.3926,0) (-0.3398,0.1217) (-0.2186,0.1730) (-0.0820,0.1639) (0.0307,0.1165) (0.0988,0.0552) (0.1198,0) (0.1036,-0.0371) (0.0667,-0.0528) (0.0250,-0.0500) (-0.0094,-0.0355) (-0.0301,-0.0168) (-0.0365,0)};
\addplot[trajs] coordinates {(-0.535,-3.25) (-0.8183,-3.1023) (-1.8880,-2.2944) (-2.6324,-1.4695) (-3.0573,-0.6890) (-3.19,0) (-3.0737,0.5653) (-2.7612,0.9892) (-2.3099,1.2672) (-1.7765,1.4057) (-1.2135,1.4202) (-0.6659,1.3318) (-0.1696,1.1652) (0.2496,0.9462) (0.5759,0.6999) (0.8029,0.4482) (0.9325,0.2102) (0.9730,0) (0.8422,-0.3017) (0.5419,-0.4288) (0.2031,-0.4062) (-0.0761,-0.2886) (-0.2449,-0.1367) (-0.2968,0) (-0.2569,0.0920) (-0.1653,0.1308) (-0.0619,0.1239) (0.0232,0.0880) (0.0747,0.0417) (0.0905,0) (0.0783,-0.0281) (0.0504,-0.0399) (0.0189,-0.0378) (-0.0071,-0.0269) (-0.0228,-0.0127) (-0.0276,0)};
\addplot[trajs] coordinates {(4.25,-2.876) (3.7870,-2.9966) (2.5869,-3.0274) (1.4194,-2.8389) (0.3615,-2.4838) (-0.5320,-2.0171) (-1.2276,-1.4919) (-1.7116,-0.9555) (-1.9878,-0.4481) (-2.0741,0) (-1.9985,0.3675) (-1.7953,0.6431) (-1.5018,0.8239) (-1.1550,0.9140) (-0.7890,0.9234) (-0.4330,0.8658) (-0.1102,0.7576) (0.1622,0.6153) (0.3744,0.4551) (0.5220,0.2914) (0.6063,0.1367) (0.6326,0) (0.5475,-0.1962) (0.3523,-0.2788) (0.1321,-0.2641) (-0.0495,-0.1877) (-0.1593,-0.0889) (-0.1930,0) (-0.1670,0.0598) (-0.1074,0.0851) (-0.0403,0.0806) (0.0151,0.0573) (0.0486,0.0271) (0.0589,0)};
\addplot[only marks, mark=*, mark size=2.2pt, black] coordinates {(0,0)};
\node at (4.71,-0.32) {\xlab{1}};
\node at (-0.36,3.51) {\xlab{2}};
\node at (0,-4.07) {\sublab{b}};
\end{axis}
\end{tikzpicture}
\end{document}
